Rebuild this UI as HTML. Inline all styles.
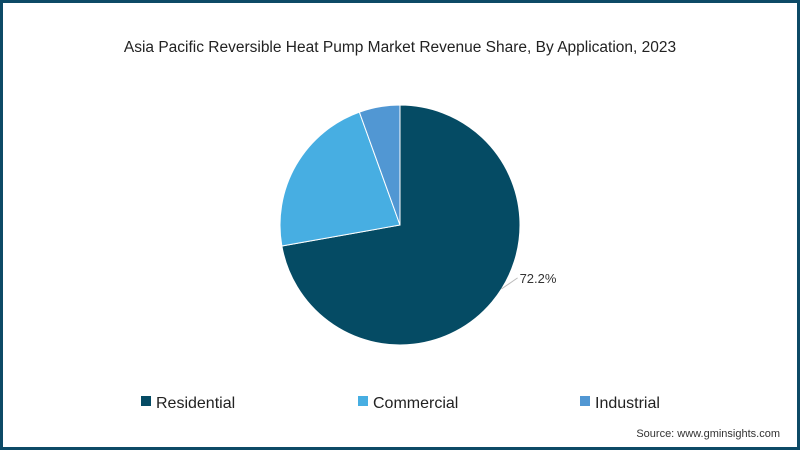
<!DOCTYPE html>
<html><head><meta charset="utf-8"><style>
body{margin:0;width:800px;height:450px;overflow:hidden;background:#fff;font-family:"Liberation Sans",sans-serif}
#frame{position:absolute;left:0;top:0;width:794px;height:444px;border:3px solid #0d4a66;background:#fff}
</style></head><body>
<div id="frame"></div>
<svg width="800" height="450" style="position:absolute;left:0;top:0">
<text x="400" y="52" text-anchor="middle" font-size="15.5" fill="#222">Asia Pacific Reversible Heat Pump Market Revenue Share, By Application, 2023</text>
<g id="pie"></g>
<g id="legend"></g>
<text x="780" y="437" text-anchor="end" font-size="11" fill="#333">Source: www.gminsights.com</text>
</svg>
<script>
const categories=["Residential","Commercial","Industrial"];
const values=[72.2,22.3,5.5];
const labels=["72.2%","",""];
const colors=["#054b64","#47aee2","#5197d3"];
const NS="http://www.w3.org/2000/svg";
const cx=400,cy=225,r=120;
const pie=document.getElementById('pie');
const tot=values.reduce((a,b)=>a+b,0);
let a0=0;
values.forEach((v,i)=>{
  const a1=a0+v/tot*2*Math.PI;
  const p=(a)=>[cx+r*Math.sin(a),cy-r*Math.cos(a)];
  const [x0,y0]=p(a0),[x1,y1]=p(a1);
  const path=document.createElementNS(NS,'path');
  path.setAttribute('d',`M${cx},${cy}L${x0},${y0}A${r},${r} 0 ${a1-a0>Math.PI?1:0} 1 ${x1},${y1}Z`);
  path.setAttribute('fill',colors[i]);path.setAttribute('stroke','#fff');path.setAttribute('stroke-width','1');
  
  
  pie.appendChild(path);
  if(labels[i]){
    const am=a0+(a1-a0)*0.47;
    const ex=cx+r*Math.sin(am),ey=cy-r*Math.cos(am);
    const ln=document.createElementNS(NS,'line');
    ln.setAttribute('x1',ex);ln.setAttribute('y1',ey);ln.setAttribute('x2',ex+16);ln.setAttribute('y2',ey-11);
    ln.setAttribute('stroke','#bbb');
    
    
    pie.appendChild(ln);
    const t=document.createElementNS(NS,'text');
    t.setAttribute('x',ex+18);t.setAttribute('y',ey-6);t.setAttribute('font-size','13');t.setAttribute('fill','#333');
    t.textContent=labels[i];
    
    
    pie.appendChild(t);
  }
  a0=a1;
});
const lg=document.getElementById('legend');
const lx=[141,358,580];
categories.forEach((c,i)=>{
  const g=document.createElementNS(NS,'g');
  
  
  const rc=document.createElementNS(NS,'rect');
  rc.setAttribute('x',lx[i]);rc.setAttribute('y',396);rc.setAttribute('width',10);rc.setAttribute('height',10);rc.setAttribute('fill',colors[i]);
  g.appendChild(rc);
  const t=document.createElementNS(NS,'text');
  t.setAttribute('x',lx[i]+15);t.setAttribute('y',408);t.setAttribute('font-size','16');t.setAttribute('fill','#222');
  t.textContent=c;g.appendChild(t);
  lg.appendChild(g);
});
</script>
</body></html>
